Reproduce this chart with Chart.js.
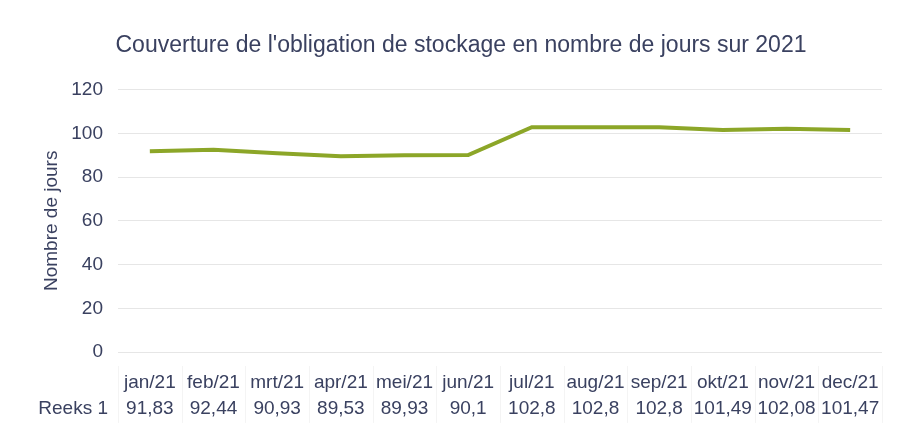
<!DOCTYPE html>
<html>
<head>
<meta charset="utf-8">
<script src="https://cdn.jsdelivr.net/npm/chart.js@4"></script>
<style>
  html, body { margin: 0; padding: 0; background: #ffffff; }
  #c { display: block; }
</style>
</head>
<body>
<canvas id="c" width="898" height="446"></canvas>
<script>
const months = ['jan/21', 'feb/21', 'mrt/21', 'apr/21', 'mei/21', 'jun/21', 'jul/21', 'aug/21', 'sep/21', 'okt/21', 'nov/21', 'dec/21'];
const seriesName = 'Reeks 1';
const values = [91.83, 92.44, 90.93, 89.53, 89.93, 90.1, 102.8, 102.8, 102.8, 101.49, 102.08, 101.47];

const textColor = '#3a4160';
const fontFamily = 'Arial, "Liberation Sans", sans-serif';
const tickSize = 19;
const tickLine = 1.4;
const tickPad = 9;

function fmt(v) {
    return String(v).replace('.', ',');
}

// data table row under the x axis
const tablePlugin = {
    id: 'dataTable',
    afterDraw(chart) {
        const ctx = chart.ctx;
        const x = chart.scales.x;
        const lh = tickSize * tickLine;
        const rowY = x.top + tickPad + 8 + lh * 1.5;
        ctx.save();
        ctx.font = tickSize + 'px ' + fontFamily;
        ctx.fillStyle = textColor;
        ctx.textAlign = 'right';
        ctx.textBaseline = 'middle';
        ctx.fillText(seriesName, x.left - 10, rowY);

        ctx.strokeStyle = '#f4f4f4';
        ctx.lineWidth = 1;
        const step = (x.right - x.left) / months.length;
        for (let i = 0; i <= months.length; i++) {
            const px = Math.round(x.left + i * step) + 0.5;
            ctx.beginPath();
            ctx.moveTo(px, x.top + 14);
            ctx.lineTo(px, rowY + 14);
            ctx.stroke();
        }
        ctx.restore();
    }
};

const ctx = document.getElementById('c').getContext('2d');
new Chart(ctx, {
    type: 'line',
    data: {
        labels: months.map((m, i) => [m, fmt(values[i])]),
        datasets: [{
            label: seriesName,
            data: values,
            borderColor: '#8ca628',
            borderWidth: 4,
            pointRadius: 0,
            tension: 0,
            fill: false
        }]
    },
    options: {
        responsive: false,
        animation: false,
        layout: { padding: { left: 40, right: 16, top: 32, bottom: 20 } },
        plugins: {
            legend: { display: false },
            tooltip: { enabled: false },
            title: {
                display: true,
                text: "Couverture de l'obligation de stockage en nombre de jours sur 2021",
                color: textColor,
                font: { family: fontFamily, size: 23, weight: 'normal' },
                padding: { top: 0, bottom: 30 }
            }
        },
        scales: {
            x: {
                offset: true,
                grid: { display: false },
                border: { display: false },
                afterFit(scale) { scale.height = 74; },
                ticks: {
                    color: textColor,
                    font: { family: fontFamily, size: tickSize, lineHeight: tickLine },
                    maxRotation: 0,
                    autoSkip: false,
                    padding: tickPad
                }
            },
            y: {
                min: 0,
                max: 120,
                grid: { color: '#e6e6e6', lineWidth: 1, drawTicks: false },
                border: { display: false },
                afterFit(scale) { scale.width = 78; },
                ticks: {
                    stepSize: 20,
                    color: textColor,
                    font: { family: fontFamily, size: tickSize },
                    padding: 15
                },
                title: {
                    display: true,
                    text: 'Nombre de jours',
                    color: textColor,
                    font: { family: fontFamily, size: tickSize },
                    padding: { top: 0, bottom: 12 }
                }
            }
        }
    },
    plugins: [tablePlugin]
});
</script>
</body>
</html>
